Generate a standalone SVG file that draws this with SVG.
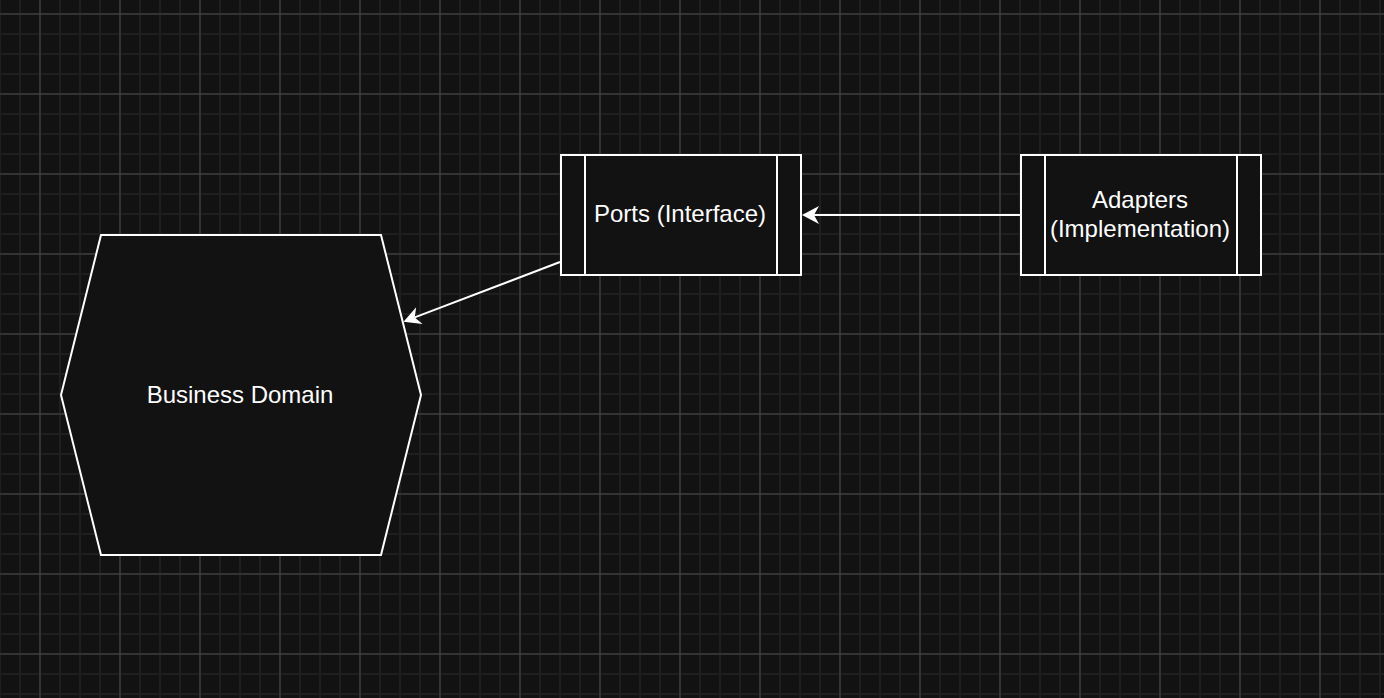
<svg xmlns="http://www.w3.org/2000/svg" width="1384" height="698" viewBox="0 0 1384 698">
  <style>
    .shape { fill: #121212; stroke: #ffffff; stroke-width: 2; }
    .inner { stroke: #ffffff; stroke-width: 2; fill: none; }
    .label { fill: #ffffff; font-family: "Liberation Sans", Arial, Helvetica, sans-serif; font-size: 24px; text-anchor: middle; }
    .edge { stroke: #ffffff; stroke-width: 2; fill: none; }
  </style>
  <defs>
    <pattern id="minor" patternUnits="userSpaceOnUse" x="10" y="4" width="20" height="20">
      <path d="M10,0 V20 M0,10 H20" stroke="#1f1f1f" stroke-width="2" fill="none"/>
    </pattern>
    <pattern id="major" patternUnits="userSpaceOnUse" x="0" y="54" width="80" height="80">
      <path d="M40,0 V80 M0,40 H80" stroke="#474747" stroke-width="1" fill="none"/>
    </pattern>
    <marker id="arrow" markerUnits="userSpaceOnUse" markerWidth="40" markerHeight="40" refX="0" refY="0" viewBox="-20 -20 40 40" orient="auto" overflow="visible">
      <path d="M-5,-9 L12,0 L-5,9 L0,0 Z" fill="#ffffff" stroke="none"/>
    </marker>
  </defs>

  <rect x="0" y="0" width="1384" height="698" fill="#121212"/>
  <rect x="0" y="0" width="1384" height="698" fill="url(#minor)"/>
  <rect x="0" y="0" width="1384" height="698" fill="url(#major)"/>

  <g id="connectors">
    <line class="edge" x1="1021" y1="215" x2="814" y2="215" marker-end="url(#arrow)"/>
    <line class="edge" x1="560" y1="262" x2="414.7" y2="317.4" marker-end="url(#arrow)"/>
  </g>

  <g id="business-domain">
    <polygon class="shape" points="101,235 381,235 421,395 381,555 101,555 61,395"/>
    <text class="label" x="240" y="403">Business Domain</text>
  </g>

  <g id="ports">
    <rect class="shape" x="561" y="155" width="240" height="120"/>
    <line class="inner" x1="585" y1="155" x2="585" y2="275"/>
    <line class="inner" x1="777" y1="155" x2="777" y2="275"/>
    <text class="label" x="680" y="222">Ports (Interface)</text>
  </g>

  <g id="adapters">
    <rect class="shape" x="1021" y="155" width="240" height="120"/>
    <line class="inner" x1="1045" y1="155" x2="1045" y2="275"/>
    <line class="inner" x1="1237" y1="155" x2="1237" y2="275"/>
    <text class="label" x="1140" y="208">Adapters</text>
    <text class="label" x="1140" y="237">(Implementation)</text>
  </g>
</svg>
